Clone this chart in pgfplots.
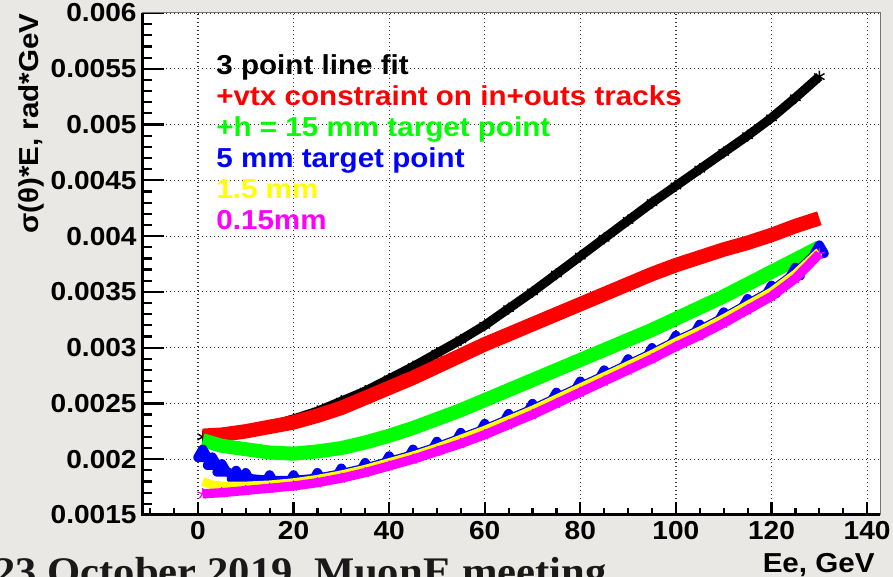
\documentclass[border=0pt]{standalone}
\usepackage{fontspec}
\setmainfont{Liberation Sans}[FakeStretch=1.08]
\newfontfamily\serifbf{Liberation Serif}[FakeStretch=1.05]
\usepackage{pgfplots}
\pgfplotsset{compat=1.18}
\definecolor{bgcol}{RGB}{234,232,228}
\definecolor{rgreen}{RGB}{0,255,0}
\definecolor{rblue}{RGB}{0,0,255}
\definecolor{rred}{RGB}{255,0,0}
\definecolor{ryellow}{RGB}{255,255,0}
\definecolor{rmagenta}{RGB}{255,0,255}

\pgfplotstableread{
x y
1 0.00220
5 0.00222
10 0.00226
15 0.00230
20 0.00236
25 0.00243
30 0.00252
35 0.00261
40 0.00272
45 0.00283
50 0.00295
55 0.00307
60 0.00320
65 0.00335
70 0.00350
75 0.00366
80 0.00382
85 0.00398
90 0.00414
95 0.00430
100 0.00445
105 0.00460
110 0.00475
115 0.00490
120 0.00506
125 0.00524
130 0.00543
}\blackdata

\pgfplotstableread{
x y
1 0.00221
5 0.00222
10 0.00225
15 0.00229
20 0.00233
25 0.00239
30 0.00246
35 0.00255
40 0.00264
45 0.00273
50 0.00283
55 0.00293
60 0.00303
65 0.00312
70 0.00321
75 0.00330
80 0.00339
85 0.00348
90 0.00357
95 0.00366
100 0.00374
105 0.00381
110 0.00388
115 0.00394
120 0.00401
125 0.00409
130 0.00416
}\reddata

\pgfplotstableread{
x y
1 0.00217
5 0.00212
10 0.00209
15 0.00206
20 0.00205
25 0.00207
30 0.00210
35 0.00215
40 0.00221
45 0.00228
50 0.00236
55 0.00244
60 0.00253
65 0.00262
70 0.00271
75 0.00280
80 0.00289
85 0.00298
90 0.00307
95 0.00316
100 0.00326
105 0.00336
110 0.00346
115 0.00357
120 0.00368
125 0.00379
130 0.00390
}\greendata

\pgfplotstableread{
x y
1 0.00204
3 0.00197
5 0.00191
8 0.00185
10 0.00183
15 0.00181
20 0.00181
25 0.00183
30 0.00187
35 0.00192
40 0.00198
45 0.00204
50 0.00211
55 0.00219
60 0.00227
65 0.00236
70 0.00245
75 0.00255
80 0.00265
85 0.00275
90 0.00285
95 0.00295
100 0.00306
105 0.00316
110 0.00327
115 0.00339
120 0.00351
125 0.00367
130 0.00387
}\bluedata

\pgfplotstableread{
x y
1 0.00180
3 0.00177
5 0.00176
10 0.00176
15 0.00177
20 0.00179
25 0.00182
30 0.00186
35 0.00191
40 0.00197
45 0.00203
50 0.00210
55 0.00218
60 0.00226
65 0.00235
70 0.00244
75 0.00254
80 0.00264
85 0.00274
90 0.00284
95 0.00294
100 0.00305
105 0.00315
110 0.00326
115 0.00338
120 0.00350
125 0.00366
130 0.00386
}\yellowdata

\pgfplotstableread{
x y
1 0.00169
5 0.00170
10 0.00172
15 0.00174
20 0.00176
25 0.00179
30 0.00183
35 0.00188
40 0.00194
45 0.00200
50 0.00207
55 0.00214
60 0.00222
65 0.00231
70 0.00240
75 0.00250
80 0.00260
85 0.00270
90 0.00280
95 0.00290
100 0.00301
105 0.00311
110 0.00322
115 0.00334
120 0.00346
125 0.00362
130 0.00384
}\magentadata

\begin{document}
\begin{tikzpicture}[x=1pt,y=1pt]
\path[use as bounding box] (0,0) rectangle (446.5,288.5);
\fill[bgcol] (0,0) rectangle (446.5,288.5);
\begin{axis}[
  name=ax,
  at={(71pt,31pt)}, anchor=south west,
  scale only axis, width=369pt, height=251pt,
  xmin=-11.7, xmax=142.7, ymin=0.0015, ymax=0.006,
  axis background/.style={fill=white},
  axis line style={line width=0.5pt, black!55},
  tick align=inside,
  xtick pos=bottom, ytick pos=left,
  xtick={0,20,40,60,80,100,120,140},
  xticklabels={0,20,40,60,80,100,120,140},
  minor xtick={-10,-5,5,10,15,25,30,35,45,50,55,65,70,75,85,90,95,105,110,115,125,130,135},
  ytick={0.0015,0.002,0.0025,0.003,0.0035,0.004,0.0045,0.005,0.0055,0.006},
  yticklabels={0.0015,0.002,0.0025,0.003,0.0035,0.004,0.0045,0.005,0.0055,0.006},
  minor y tick num=4,
  major tick length=11pt, minor tick length=5pt,
  xtick style={/pgfplots/major tick length=6.5pt, /pgfplots/minor tick length=3.5pt},
  tick style={black, line width=1.1pt},
  grid=major,
  major grid style={black!80, line width=0.6pt, dash pattern=on 0.6pt off 1.4pt},
  tick label style={font=\fontsize{13}{15}\selectfont\bfseries},
  yticklabel style={inner xsep=2.5pt, inner ysep=0pt},
  xticklabel style={inner ysep=3pt, inner xsep=0pt},
  /pgf/number format/assume math mode=true,
  clip mode=individual,
  every axis plot/.append style={line join=round},
]
\addplot[black, line width=4.6pt, mark=asterisk, mark size=3pt, mark options={line width=0.7pt}] table[x=x,y=y] {\blackdata};
\addplot[rred, line width=7.2pt] table[x=x,y=y] {\reddata};
\addplot[rgreen, line width=7pt] table[x=x,y=y] {\greendata};
\addplot[rblue, line width=4.6pt, mark=triangle*, mark size=2.8pt] table[x=x,y=y] {\bluedata};
\addplot[ryellow, line width=4.4pt] table[x=x,y=y] {\yellowdata};
\addplot[rmagenta, line width=4.6pt, mark=star, mark size=2.8pt, mark options={line width=0.6pt}] table[x=x,y=y] {\magentadata};
\end{axis}
\draw[line width=1.5pt, black] (ax.north west) -- (ax.south west) -- (ax.south east);
\begin{scope}[every node/.style={anchor=base west, inner sep=0pt, font=\fontsize{13.7}{16}\selectfont\bfseries}]
\node[text=black] at (108,251) {3 point line fit};
\node[text=rred] at (108,235.5) {+vtx constraint on in+outs tracks};
\node[text=rgreen] at (108,220) {+h = 15 mm target point};
\node[text=rblue] at (108,204.5) {5 mm target point};
\node[text=ryellow] at (108,189) {1.5 mm};
\node[text=rmagenta] at (108,173.5) {0.15mm};
\end{scope}
\node[anchor=base east, inner sep=0pt, font=\fontsize{13.7}{16}\selectfont\bfseries] at (437.5,2) {Ee, GeV};
\node[anchor=base east, rotate=90, inner sep=0pt, font=\fontsize{13.7}{16}\selectfont\bfseries] at (19,282) {σ(θ)*E, rad*GeV};
\node[anchor=base west, inner sep=0pt, text=black!90, font=\serifbf\bfseries\fontsize{20.3}{24}\selectfont] at (-3,-4.2) {23 October 2019, MuonE meeting};
\end{tikzpicture}
\end{document}
